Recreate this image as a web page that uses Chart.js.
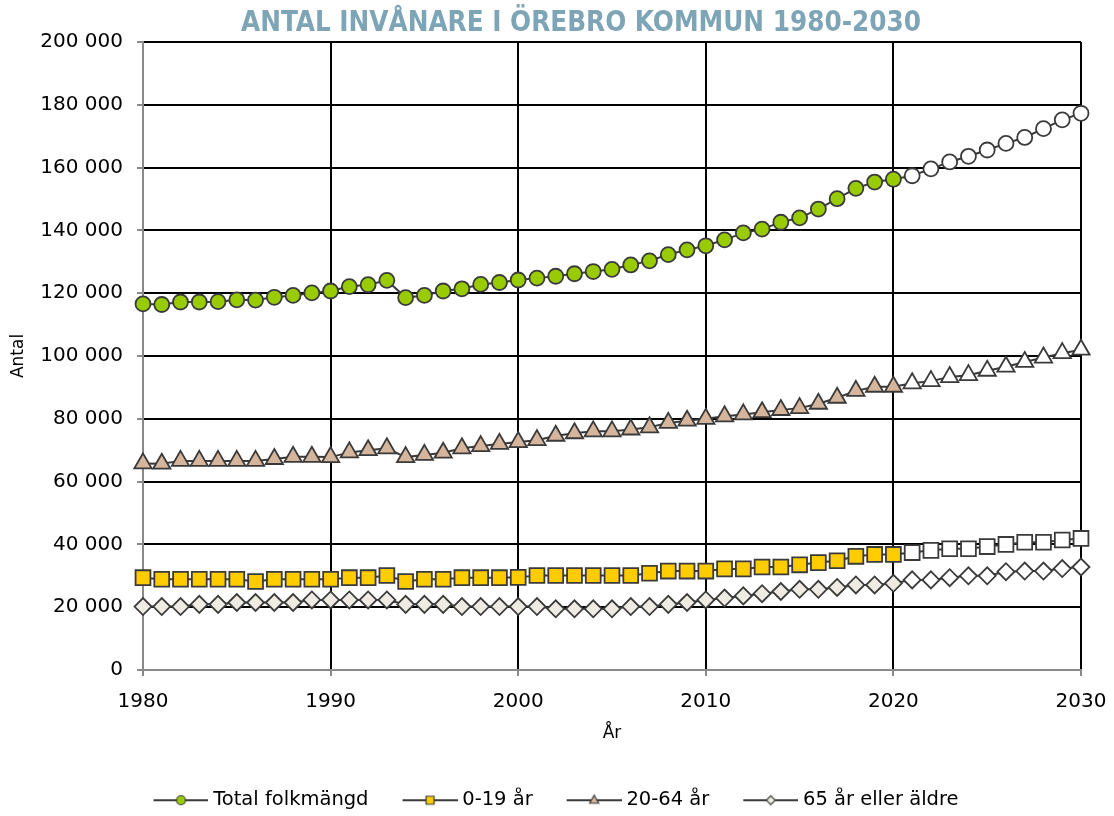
<!DOCTYPE html>
<html>
<head>
<meta charset="utf-8">
<script src="https://cdn.jsdelivr.net/npm/chart.js@4/dist/chart.umd.min.js"></script>
<style>
  html, body { margin: 0; padding: 0; background: #fff; }
  #wrap { width: 1114px; height: 816px; }
</style>
</head>
<body>
<div id="wrap"><canvas id="c" width="1114" height="816"></canvas></div>
<script>
const years = [1980,1981,1982,1983,1984,1985,1986,1987,1988,1989,1990,1991,1992,1993,1994,1995,1996,1997,1998,1999,2000,
  2001,2002,2003,2004,2005,2006,2007,2008,2009,2010,2011,2012,2013,2014,2015,2016,2017,2018,2019,2020,
  2021,2022,2023,2024,2025,2026,2027,2028,2029,2030];

const totalFolkmangd = [116600,116400,117200,117200,117300,117900,117800,118700,119300,120100,120700,122100,122700,124100,118600,119300,120700,121400,122800,123400,124200,
  124800,125400,126200,126900,127600,129000,130300,132300,133800,135100,137000,139200,140400,142600,144000,146800,150100,153400,155400,156300,
  157400,159600,161800,163600,165600,167700,169600,172400,175200,177300];

const ar0_19 = [29400,28900,28900,28900,28900,28900,28200,28900,28900,28900,28900,29400,29400,30100,28200,28900,28900,29400,29400,29400,29500,
  30100,30100,30100,30100,30100,30100,30800,31500,31500,31500,32200,32200,32800,32800,33500,34200,34800,36200,36800,36800,
  37400,38100,38600,38600,39300,40000,40700,40700,41400,41900];

const ar20_64 = [65800,65700,66600,66600,66600,66600,66600,67200,67900,67900,67800,69300,70000,70600,67800,68500,69200,70600,71300,72000,72600,
  73200,74600,75400,76000,76000,76600,77300,78700,79400,80000,80800,81400,82100,82800,83400,84800,86700,88900,90200,90200,
  91300,92000,93300,93900,95300,96600,98100,99500,100900,102000];

const ar65plus = [20200,20200,20200,20900,20900,21500,21500,21500,21500,22300,22300,22300,22300,22300,20900,20900,20900,20200,20200,20200,20200,
  20200,19500,19500,19500,19500,20200,20200,20900,21500,22300,22900,23600,24300,25000,25700,25700,26300,27100,27100,27600,
  28700,28700,29400,30000,30000,31300,31500,31500,32300,32800];

const seriesNames = ['Total folkmängd', '0-19 år', '20-64 år', '65 år eller äldre'];
const yTicks = [0,20000,40000,60000,80000,100000,120000,140000,160000,180000,200000];
const xTicks = [1980,1990,2000,2010,2020,2030];
const lastObservedYear = 2020;
const chartTitle = 'ANTAL INVÅNARE I ÖREBRO KOMMUN 1980-2030';

const fills = ['#99CC00', '#FFCC00', '#D5B59B', '#EEECE2'];
const styles = ['circle', 'rect', 'triangle', 'rectRot'];
const radii = [7.5, 10.5, 10, 8.5];
const edge = '#3a3a3a';

function toPoints(vals) { return vals.map((v, i) => ({x: years[i], y: v})); }

const LEG_BOX = 81;
function legendIcon(style, fill) {
  const W = LEG_BOX + 10, lineW = 55, h = 16;
  const cv = document.createElement('canvas');
  cv.width = W; cv.height = h;
  const g = cv.getContext('2d');
  const cy = h / 2, x0 = W - lineW, cx = x0 + lineW / 2;
  g.strokeStyle = edge; g.lineWidth = 2;
  g.beginPath(); g.moveTo(x0, cy); g.lineTo(W, cy); g.stroke();
  g.fillStyle = fill; g.lineWidth = 1.2; g.strokeStyle = edge;
  g.beginPath();
  if (style === 'circle') { g.arc(cx, cy, 4.5, 0, Math.PI * 2); }
  else if (style === 'rect') { g.rect(cx - 4, cy - 4, 8, 8); }
  else if (style === 'triangle') { g.moveTo(cx, cy - 5); g.lineTo(cx + 4.5, cy + 3); g.lineTo(cx - 4.5, cy + 3); g.closePath(); }
  else { g.moveTo(cx - 4.5, cy); g.lineTo(cx, cy - 4.5); g.lineTo(cx + 4.5, cy); g.lineTo(cx, cy + 4.5); g.closePath(); }
  g.fill(); g.stroke();
  return cv;
}

const seriesValues = [totalFolkmangd, ar0_19, ar20_64, ar65plus];
const icons = seriesNames.map((n, i) => legendIcon(styles[i], fills[i]));

const datasets = seriesNames.map((name, i) => ({
  label: name,
  data: toPoints(seriesValues[i]),
  borderColor: edge,
  borderWidth: 2,
  pointStyle: styles[i],
  pointRadius: radii[i],
  pointHoverRadius: radii[i],
  pointBorderWidth: 1.8,
  pointBorderColor: edge,
  pointBackgroundColor: (ctx) => (ctx.raw && ctx.raw.x > lastObservedYear) ? '#ffffff' : fills[i],
  tension: 0,
  clip: false
}));

const FONT = "'DejaVu Sans', 'Liberation Sans', sans-serif";

const titlePlugin = {
  id: 'customTitle',
  afterDraw(chart) {
    const ctx = chart.ctx;
    ctx.save();
    ctx.font = "bold 28px 'DejaVu Sans Condensed', 'DejaVu Sans', sans-serif";
    ctx.fillStyle = '#7DA5B6';
    ctx.textBaseline = 'alphabetic';
    ctx.textAlign = 'center';
    const w = ctx.measureText(chartTitle).width;
    const target = 680;
    const cx = 581;
    ctx.translate(cx, 31);
    ctx.scale(target / w, 1);
    ctx.fillText(chartTitle, 0, 0);
    ctx.restore();
  }
};

new Chart(document.getElementById('c'), {
  type: 'line',
  data: { datasets },
  plugins: [titlePlugin],
  options: {
    responsive: false,
    animation: false,
    devicePixelRatio: 1,
    layout: { padding: { left: 0, right: 33, top: 42, bottom: -4 } },
    plugins: {
      title: { display: false },
      legend: {
        position: 'bottom',
        labels: {
          usePointStyle: true,
          pointStyleWidth: LEG_BOX,
          padding: 3,
          color: '#000',
          font: { family: FONT, size: 19.5 },
          generateLabels: (chart) => {
            const items = Chart.defaults.plugins.legend.labels.generateLabels(chart);
            items.forEach((it, i) => { it.pointStyle = icons[i]; });
            return items;
          }
        }
      },
      tooltip: { enabled: false }
    },
    scales: {
      x: {
        type: 'linear',
        min: 1980,
        max: 2030,
        afterBuildTicks: (s) => { s.ticks = xTicks.map(v => ({value: v})); },
        ticks: {
          callback: (v) => String(v),
          color: '#000',
          font: { family: FONT, size: 20 },
          padding: 14,
          maxRotation: 0
        },
        grid: {
          color: (ctx) => (ctx.tick && ctx.tick.value === 1980) ? '#8a8a8a' : '#000',
          lineWidth: 2,
          tickColor: '#8a8a8a',
          tickLength: 6
        },
        border: { color: '#8a8a8a', width: 2 },
        title: {
          display: true,
          text: 'År',
          color: '#000',
          font: { family: FONT, size: 17, lineHeight: 1.2 },
          padding: { top: 4, bottom: 44 }
        },
        afterFit: (s) => { s.height = 117.5; s.paddingLeft = 0; s.paddingRight = 0; }
      },
      y: {
        min: 0,
        max: 200000,
        afterBuildTicks: (s) => { s.ticks = yTicks.map(v => ({value: v})); },
        ticks: {
          callback: (v) => String(v).replace(/\B(?=(\d{3})+(?!\d))/g, ' '),
          color: '#000',
          font: { family: FONT, size: 20 },
          padding: 14
        },
        grid: {
          color: (ctx) => (ctx.tick && ctx.tick.value === 0) ? '#8a8a8a' : '#000',
          lineWidth: 2,
          tickColor: '#8a8a8a',
          tickLength: 6
        },
        border: { color: '#8a8a8a', width: 2 },
        title: {
          display: true,
          text: 'Antal',
          color: '#000',
          font: { family: FONT, size: 17, lineHeight: 1.2 },
          padding: { top: 8, bottom: 0 }
        },
        afterFit: (s) => { s.width = 143; }
      }
    }
  }
});
</script>
</body>
</html>
